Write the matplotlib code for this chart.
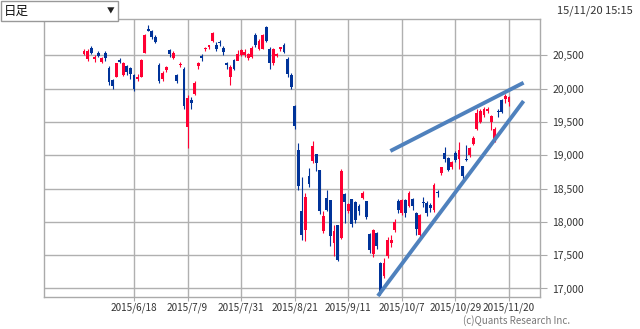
import matplotlib.pyplot as plt
import numpy as np
from matplotlib.patches import Rectangle

plt.rcParams["font.family"] = ["Noto Sans CJK JP", "DejaVu Sans"]

# daily bars, 2015/5/29 - 2015/11/20
dates = ["5/29", "6/1", "6/2", "6/3", "6/4", "6/5", "6/8", "6/9", "6/10", "6/11",
         "6/12", "6/15", "6/16", "6/17", "6/18", "6/19", "6/22", "6/23", "6/24", "6/25",
         "6/26", "6/29", "6/30", "7/1", "7/2", "7/3", "7/6", "7/7", "7/8", "7/9",
         "7/10", "7/13", "7/14", "7/15", "7/16", "7/17", "7/21", "7/22", "7/23", "7/24",
         "7/27", "7/28", "7/29", "7/30", "7/31", "8/3", "8/4", "8/5", "8/6", "8/7",
         "8/10", "8/11", "8/12", "8/13", "8/14", "8/17", "8/18", "8/19", "8/20", "8/21",
         "8/24", "8/25", "8/26", "8/27", "8/28", "8/31", "9/1", "9/2", "9/3", "9/4",
         "9/7", "9/8", "9/9", "9/10", "9/11", "9/14", "9/15", "9/16", "9/17", "9/18",
         "9/24", "9/25", "9/28", "9/29", "9/30", "10/1", "10/2", "10/5", "10/6", "10/7",
         "10/8", "10/9", "10/13", "10/14", "10/15", "10/16", "10/19", "10/20", "10/21", "10/22",
         "10/23", "10/26", "10/27", "10/28", "10/29", "10/30", "11/2", "11/4", "11/5", "11/6",
         "11/9", "11/10", "11/11", "11/12", "11/13", "11/16", "11/17", "11/18", "11/19", "11/20"]

opens = [20515, 20440, 20610, 20450, 20530, 20400, 20540, 20310, 20130, 20180,
         20435, 20200, 20340, 20310, 20200, 20150, 20175, 20535, 20900, 20860,
         20770, 20360, 20150, 20280, 20585, 20460, 20200, 20350, 20300, 19420,
         19825, 19915, 20340, 20490, 20590, 20625, 20710, 20660, 20700, 20615,
         20385, 20180, 20425, 20420, 20510, 20500, 20460, 20475, 20810, 20600,
         20600, 20925, 20600, 20380, 20490, 20595, 20650, 20450, 20200, 19735,
         19085, 18160, 17885, 18685, 18910, 19020, 18785, 17860, 18360, 18335,
         17685, 17960, 17760, 18420, 18160, 18345, 18300, 18245, 18360, 18310,
         17815, 17515, 17830, 17385, 17190, 17485, 17690, 17880, 18315, 18140,
         18330, 18240, 18350, 18135, 17810, 18300, 18285, 18260, 18175, 18450,
         18735, 19035, 18965, 18825, 19035, 18950, 18835, 18945, 19000, 19175,
         19400, 19500, 19600, 19660, 19500, 19250, 19660, 19830, 19850, 19800]

highs = [20600, 20600, 20640, 20500, 20560, 20480, 20560, 20340, 20150, 20390,
         20460, 20400, 20360, 20330, 20220, 20220, 20440, 20820, 20952, 20880,
         20800, 20380, 20260, 20340, 20600, 20560, 20220, 20400, 20330, 19900,
         19870, 20110, 20400, 20520, 20620, 20660, 20850, 20700, 20730, 20640,
         20400, 20360, 20440, 20580, 20600, 20590, 20540, 20640, 20830, 20740,
         20820, 20946, 20620, 20610, 20540, 20630, 20680, 20470, 20230, 19760,
         19185, 18670, 18435, 18810, 19210, 19020, 18785, 18160, 18480, 18335,
         17960, 17960, 18790, 18440, 18290, 18350, 18320, 18270, 18470, 18320,
         17830, 17900, 17850, 17400, 17460, 17770, 17800, 18050, 18340, 18340,
         18350, 18460, 18360, 18150, 18120, 18380, 18310, 18290, 18580, 18480,
         18830, 19120, 18970, 18910, 19060, 19200, 18840, 19150, 19130, 19290,
         19690, 19700, 19720, 19720, 19610, 19430, 19700, 19850, 19920, 19890]

lows = [20500, 20420, 20520, 20400, 20470, 20380, 20410, 20060, 19990, 20170,
        20380, 20190, 20200, 20150, 19960, 20110, 20170, 20530, 20860, 20740,
        20680, 20090, 20120, 20250, 20480, 20440, 20090, 20320, 19700, 19115,
        19700, 19900, 20300, 20420, 20560, 20600, 20700, 20570, 20640, 20500,
        20300, 20060, 20280, 20440, 20490, 20480, 20430, 20460, 20630, 20580,
        20590, 20700, 20300, 20360, 20470, 20560, 20540, 20180, 20000, 19400,
        18485, 17735, 17710, 18520, 18880, 18760, 18120, 17830, 18160, 17640,
        17490, 17410, 17740, 17990, 18130, 17930, 17980, 18100, 18340, 18040,
        17530, 17480, 17600, 16901, 17150, 17460, 17630, 17850, 18130, 18100,
        18070, 18220, 18180, 17800, 17780, 18230, 18090, 18150, 18150, 18380,
        18700, 18900, 18760, 18800, 18900, 18800, 18640, 18920, 18980, 19160,
        19380, 19480, 19580, 19640, 19380, 19200, 19580, 19640, 19780, 19740]

closes = [20563, 20569, 20543, 20473, 20488, 20460, 20457, 20096, 20046, 20382,
          20407, 20387, 20257, 20219, 19990, 20174, 20428, 20809, 20868, 20771,
          20706, 20109, 20235, 20329, 20522, 20539, 20112, 20376, 19737, 19855,
          19779, 20089, 20385, 20463, 20610, 20650, 20841, 20593, 20683, 20544,
          20350, 20328, 20302, 20522, 20585, 20548, 20520, 20614, 20664, 20724,
          20808, 20720, 20392, 20595, 20519, 20620, 20554, 20222, 20033, 19435,
          18540, 17806, 18376, 18574, 19136, 18890, 18165, 18095, 18182, 17792,
          17860, 17427, 18770, 18299, 18264, 17965, 18026, 18171, 18432, 18070,
          17571, 17880, 17645, 16930, 17388, 17722, 17725, 18005, 18186, 18322,
          18141, 18438, 18234, 17891, 18096, 18291, 18131, 18207, 18554, 18435,
          18825, 18947, 18777, 18903, 18935, 19083, 18683, 18926, 19116, 19265,
          19642, 19671, 19697, 19697, 19596, 19393, 19649, 19650, 19885, 19879]

tick_dates = ["6/18", "7/9", "7/31", "8/21", "9/11", "10/7", "10/29", "11/20"]
y_ticks = [17000, 17500, 18000, 18500, 19000, 19500, 20000, 20500]

# hand-drawn trend lines (bar index, price)
upper_line_x = [85.8, 123.1]
upper_line_y = [19065, 20090]
lower_line_x = [82.3, 123.1]
lower_line_y = [16887, 19815]

red = "#ff0033"
blue = "#003399"

o = np.array(opens)
h = np.array(highs)
l = np.array(lows)
c = np.array(closes)
x = np.arange(len(dates))
colors = np.where(c >= o, red, blue)

fig = plt.figure(figsize=(6.4, 3.29), dpi=100)
ax = fig.add_axes([44 / 640, 1 - 297 / 329, 496 / 640, 278 / 329])

ax.vlines(x, l, h, colors=colors, linewidth=0.8, zorder=3)
body = np.maximum(np.abs(c - o), 12)
ax.bar(x, body, bottom=np.minimum(o, c), width=0.8, color=colors,
       linewidth=0, zorder=4)

ax.plot(upper_line_x, upper_line_y, color="#4f81bd", linewidth=2.8,
        solid_capstyle="butt", zorder=5)
ax.plot(lower_line_x, lower_line_y, color="#4f81bd", linewidth=2.8,
        solid_capstyle="butt", zorder=5)

ax.set_xlim(-11.2, 127.7)
ax.set_ylim(16872, 21047)

ax.set_xticks([dates.index(d) for d in tick_dates])
ax.set_xticklabels(["2015/" + d for d in tick_dates])
ax.set_yticks(y_ticks)
ax.set_yticklabels([f"{v:,}" for v in y_ticks])
ax.yaxis.tick_right()
ax.tick_params(axis="y", length=5, color="#aaaaaa", labelsize=7.5,
               labelcolor="#333333", pad=4)
ax.tick_params(axis="x", length=3, color="#aaaaaa", labelsize=7.2,
               labelcolor="#333333", pad=1)
ax.grid(True, color="#b0b0b0", linewidth=1, zorder=0)
ax.set_axisbelow(True)
for s in ax.spines.values():
    s.set_color("#aaaaaa")
    s.set_linewidth(1)

# period selector box
fig.patches.append(Rectangle((1 / 640, 1 - 21 / 329), 117 / 640, 20 / 329,
                             transform=fig.transFigure, facecolor="white",
                             edgecolor="#999999", linewidth=1, zorder=10))
fig.text(4 / 640, 1 - 11 / 329, "日足", fontsize=9, va="center", ha="left",
         color="#111111", zorder=11)
fig.text(111 / 640, 1 - 11 / 329, "▼", fontsize=5.5, va="center", ha="center",
         color="#222222", zorder=11)

fig.text(633 / 640, 1 - 11 / 329, "15/11/20 15:15", fontsize=8, va="center",
         ha="right", color="#333333")
fig.text(570 / 640, 1 - 321 / 329, "(c)Quants Research Inc.", fontsize=7,
         va="center", ha="right", color="#777777")

fig.savefig("out.png", dpi=100)
